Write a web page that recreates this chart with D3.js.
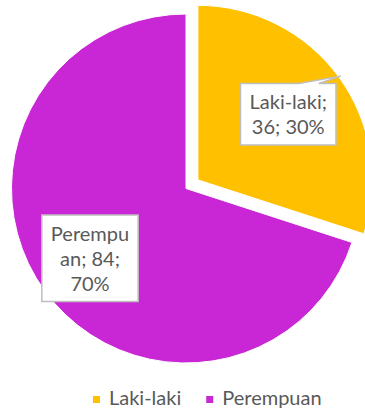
<!DOCTYPE html>
<html>
<head>
<meta charset="utf-8">
<script src="https://cdn.jsdelivr.net/npm/d3@7"></script>
<style>
  html, body { margin: 0; padding: 0; background: #fff; }
  svg { display: block; }
</style>
</head>
<body>
<svg id="chart" width="365" height="408"></svg>
<script>
// Data
const categories = ["Laki-laki", "Perempuan"];
const values = [36, 84];
const colors = ["#FFC000", "#C926D6"];

// Layout / style
const fontFamily = "Lato, 'Open Sans', sans-serif";
const fontSize = 20;
const textColor = "#595959";
const cx = 186, cy = 188.5, R = 174.5;
const explodeBy = [14.7, 0];
const labelRadius = [0.64, 0.68];
const labelLeader = [true, false];
const lineHeight = 25;
const labelMaxWidth = 83;

const svg = d3.select("#chart");
const total = d3.sum(values);
const slices = d3.pie().sort(null).value(d => d)(values);
const arc = d3.arc().innerRadius(0).outerRadius(R);

// Text measurement helper
const measurer = svg.append("text")
  .attr("font-family", fontFamily)
  .attr("font-size", fontSize)
  .attr("visibility", "hidden");
function textWidth(s) {
  measurer.text(s);
  return measurer.node().getComputedTextLength();
}

// Wrap on spaces; words longer than the limit are split by characters
function wrap(label, maxW) {
  const words = label.split(" ");
  const lines = [];
  let cur = "";
  words.forEach(w => {
    const trial = cur ? cur + " " + w : w;
    if (textWidth(trial) <= maxW) { cur = trial; return; }
    if (cur) { lines.push(cur); cur = ""; }
    if (textWidth(w) <= maxW) { cur = w; return; }
    let part = "";
    for (const ch of w) {
      if (textWidth(part + ch) <= maxW) part += ch;
      else { lines.push(part); part = ch; }
    }
    cur = part;
  });
  if (cur) lines.push(cur);
  return lines;
}

// Slice centres (exploded along the bisector)
const centres = slices.map((s, i) => {
  const mid = (s.startAngle + s.endAngle) / 2;
  return { mid, x: cx + Math.sin(mid) * explodeBy[i], y: cy - Math.cos(mid) * explodeBy[i] };
});

// Slices
svg.append("g").selectAll("path")
  .data(slices)
  .join("path")
  .attr("transform", (d, i) => `translate(${centres[i].x},${centres[i].y})`)
  .attr("d", arc)
  .attr("fill", (d, i) => colors[i])
  .attr("stroke", "#fff")
  .attr("stroke-width", 1);

// Data labels: "category; value; percent"
const labels = svg.append("g");
slices.forEach((s, i) => {
  const c = centres[i];
  const pct = Math.round(values[i] / total * 100);
  const text = `${categories[i]}; ${values[i]}; ${pct}%`;
  const lines = wrap(text, labelMaxWidth);
  const w = d3.max(lines, textWidth) + 18;
  const h = lines.length * lineHeight + 11.5;
  const bx = c.x + Math.sin(c.mid) * labelRadius[i] * R;
  const by = c.y - Math.cos(c.mid) * labelRadius[i] * R;
  const left = bx - w / 2, top = by - h / 2, right = left + w, bottom = top + h;

  let d;
  if (labelLeader[i]) {
    const tipX = c.x + Math.sin(c.mid) * (R + 2);
    const tipY = c.y - Math.cos(c.mid) * (R + 2);
    const b0 = bx + 0.11 * w, b1 = b0 + 20;
    d = `M${left},${top}L${b0},${top}L${tipX},${tipY}L${b1},${top}L${right},${top}L${right},${bottom}L${left},${bottom}Z`;
  } else {
    d = `M${left},${top}L${right},${top}L${right},${bottom}L${left},${bottom}Z`;
  }
  labels.append("path")
    .attr("d", d)
    .attr("fill", "#fff")
    .attr("stroke", "#BFBFBF")
    .attr("stroke-width", 1.5);

  const t = labels.append("text")
    .attr("font-family", fontFamily)
    .attr("font-size", fontSize)
    .attr("fill", textColor)
    .attr("text-anchor", "middle");
  lines.forEach((ln, j) => {
    t.append("tspan")
      .attr("x", bx)
      .attr("y", top + 25.8 + j * lineHeight)
      .text(ln);
  });
});

// Legend
const legend = svg.append("g");
let lx = 93;
categories.forEach((cat, i) => {
  legend.append("rect")
    .attr("x", lx).attr("y", 396)
    .attr("width", 7).attr("height", 7)
    .attr("fill", colors[i]);
  legend.append("text")
    .attr("x", lx + 16).attr("y", 405)
    .attr("font-family", fontFamily)
    .attr("font-size", fontSize)
    .attr("fill", textColor)
    .text(cat);
  lx += 16 + textWidth(cat) + 25;
});

measurer.remove();
</script>
</body>
</html>
